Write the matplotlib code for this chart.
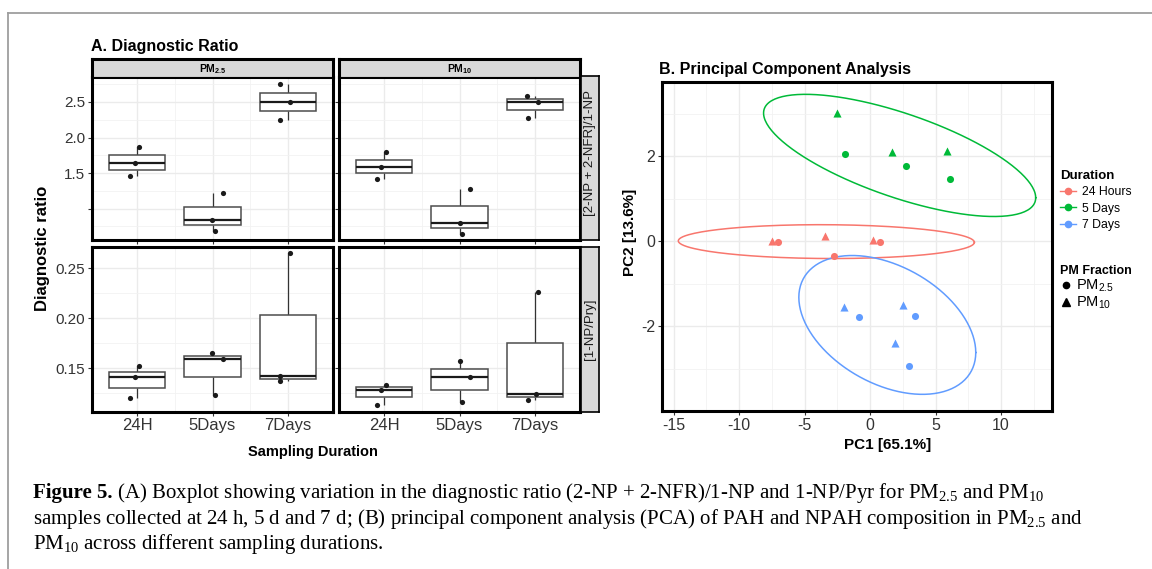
import numpy as np
import matplotlib
matplotlib.use("Agg")
import matplotlib.pyplot as plt
from matplotlib.lines import Line2D

plt.rcParams['font.family'] = ['Liberation Sans', 'DejaVu Sans']
plt.rcParams['mathtext.default'] = 'regular'
plt.rcParams['axes.unicode_minus'] = False

# ---- data: boxplots (3 replicates per duration) ----
durations = ["24H", "5Days", "7Days"]
fractions = ["PM$_{2.5}$", "PM$_{10}$"]
ratio_names = ["[2-NP + 2-NFR]/1-NP", "[1-NP/Pry]"]

nfr_pm25 = [[1.46, 1.64, 1.86], [0.69, 0.84, 1.22], [2.25, 2.50, 2.75]]
nfr_pm10 = [[1.41, 1.58, 1.80], [0.65, 0.80, 1.27], [2.27, 2.50, 2.59]]
pyr_pm25 = [[0.120, 0.141, 0.152], [0.123, 0.1595, 0.165], [0.137, 0.142, 0.265]]
pyr_pm10 = [[0.1135, 0.1284, 0.1335], [0.1156, 0.1406, 0.157], [0.1183, 0.1245, 0.226]]

# horizontal jitter of the points as seen in the figure
jit_nfr_pm25 = [[-0.09, -0.035, 0.03], [0.03, -0.01, 0.14], [-0.10, 0.035, -0.11]]
jit_nfr_pm10 = [[-0.10, -0.045, 0.03], [0.03, 0.0, 0.14], [-0.09, 0.04, -0.10]]
jit_pyr_pm25 = [[-0.09, -0.035, 0.03], [0.03, 0.14, -0.01], [-0.10, -0.11, 0.035]]
jit_pyr_pm10 = [[-0.10, -0.045, 0.03], [0.03, 0.14, 0.0], [-0.09, 0.02, 0.04]]

# ---- data: PCA scores ----
groups = ["24 Hours", "5 Days", "7 Days"]
pc1_24h = [-7.53, -7.04, -3.44, -2.73, 0.23, 0.77]
pc2_24h = [0.01, -0.02, 0.12, -0.35, 0.03, -0.03]
frac_24h = ["PM10", "PM2.5", "PM10", "PM2.5", "PM10", "PM2.5"]
pc1_5d = [-2.53, -1.91, 1.71, 2.73, 5.89, 6.10]
pc2_5d = [3.03, 2.06, 2.09, 1.78, 2.12, 1.46]
frac_5d = ["PM10", "PM2.5", "PM10", "PM2.5", "PM10", "PM2.5"]
pc1_7d = [-2.02, -0.82, 2.55, 3.44, 1.94, 2.98]
pc2_7d = [-1.55, -1.78, -1.51, -1.76, -2.39, -2.93]
frac_7d = ["PM10", "PM2.5", "PM10", "PM2.5", "PM10", "PM2.5"]

colors = ["#F8766D", "#00BA38", "#619CFF"]

W, H = 1152, 569
fig = plt.figure(figsize=(W / 100, H / 100), dpi=100)


def fbox(x0, y0, x1, y1):
    # pixel box (top-left origin) -> figure fraction rect
    return [x0 / W, (H - y1) / H, (x1 - x0) / W, (y1 - y0) / H]


def style_panel(ax):
    ax.set_facecolor("white")
    for s in ax.spines.values():
        s.set_linewidth(2.2)
        s.set_color("black")
    ax.grid(True, which="major", color="#EBEBEB", lw=1.0)
    ax.grid(True, which="minor", color="#F2F2F2", lw=0.6)
    ax.set_axisbelow(True)
    ax.tick_params(which="major", length=3, width=0.8, color="#333333",
                   labelsize=11, labelcolor="#333333", pad=2)
    ax.tick_params(which="minor", length=0)


def draw_box(ax, data, jit):
    for i, vals in enumerate(data):
        v = np.array(vals)
        q1, med, q3 = np.percentile(v, [25, 50, 75])
        lo, hi = v.min(), v.max()
        ax.vlines(i + 1, q3, hi, color="#333333", lw=0.9, zorder=2)
        ax.vlines(i + 1, lo, q1, color="#333333", lw=0.9, zorder=2)
        ax.add_patch(plt.Rectangle((i + 1 - 0.375, q1), 0.75, q3 - q1, facecolor="white",
                                   edgecolor="#4D4D4D", lw=1.1, zorder=3))
        ax.hlines(med, i + 1 - 0.375, i + 1 + 0.375, color="#1A1A1A", lw=1.6, zorder=4)
        ax.scatter(np.full(3, i + 1) + np.array(jit[i]), v, s=14, color="#1A1A1A",
                   zorder=5, linewidths=0)


panels = [
    (nfr_pm25, jit_nfr_pm25, 0, 0), (nfr_pm10, jit_nfr_pm10, 0, 1),
    (pyr_pm25, jit_pyr_pm25, 1, 0), (pyr_pm10, jit_pyr_pm10, 1, 1),
]
col_x = [(92, 333), (339, 580)]
row_y = [(77, 240), (247, 412)]

for data, jit, r, c in panels:
    x0, x1 = col_x[c]
    y0, y1 = row_y[r]
    ax = fig.add_axes(fbox(x0, y0, x1, y1))
    style_panel(ax)
    draw_box(ax, data, jit)
    ax.set_xlim(0.4, 3.6)
    ax.set_xticks([1, 2, 3])
    if r == 0:
        ax.set_ylim(0.56, 2.85)
        ax.set_yticks([1.0, 1.5, 2.0, 2.5])
        ax.set_yticklabels(["", "1.5", "2.0", "2.5"])
        ax.set_yticks([0.75, 1.25, 1.75, 2.25, 2.75], minor=True)
        ax.set_xticklabels([])
    else:
        ax.set_ylim(0.106, 0.271)
        ax.set_yticks([0.15, 0.20, 0.25])
        ax.set_yticklabels(["0.15", "0.20", "0.25"])
        ax.set_yticks([0.125, 0.175, 0.225], minor=True)
        ax.set_xticklabels(durations)
        ax.tick_params(axis="x", labelsize=12, pad=1.5)
    ax.set_xticks([1.5, 2.5], minor=True)
    if c == 1:
        ax.tick_params(axis="y", labelleft=False)
    # top strips
    if r == 0:
        sx = fig.add_axes(fbox(x0, 59, x1, 77))
        sx.set_facecolor("#D9D9D9")
        sx.set_xticks([]); sx.set_yticks([])
        for s in sx.spines.values():
            s.set_linewidth(2.2)
        sx.spines["bottom"].set_linewidth(0.8)
        sx.text(0.5, 0.45, fractions[c], transform=sx.transAxes, ha="center", va="center",
                fontsize=7.5, fontweight="bold")
    # right strips
    if c == 1:
        rx = fig.add_axes(fbox(581, y0 - 1 if r == 0 else y0, 599, y1))
        rx.set_facecolor("#D9D9D9")
        rx.set_xticks([]); rx.set_yticks([])
        for s in rx.spines.values():
            s.set_linewidth(1.2)
        rx.text(0.5, 0.53 if r == 0 else 0.5, ratio_names[r], transform=rx.transAxes,
                ha="center", va="center", rotation=90, fontsize=9.5, color="#1A1A1A")

fig.text(91 / W, 1 - 46 / H, "A. Diagnostic Ratio", fontsize=11.5, fontweight="bold",
         ha="left", va="center")
fig.text(42 / W, 1 - 248 / H, "Diagnostic ratio", fontsize=12, fontweight="bold",
         rotation=90, ha="center", va="center")
fig.text(313 / W, 1 - 452 / H, "Sampling Duration", fontsize=10.5, fontweight="bold",
         ha="center", va="center")


# ---- panel B: PCA ----
def cov_trob(xy, nu=5, maxit=25, tol=0.01):
    n, p = xy.shape
    wt = np.ones(n)
    loc = xy.mean(axis=0)
    w = np.sqrt(wt)
    X = xy - loc
    for _ in range(maxit):
        w0 = w
        X = xy - loc
        _, d, vt = np.linalg.svd(np.sqrt(w / w.sum())[:, None] * X, full_matrices=False)
        wX = X @ vt.T @ np.diag(1 / d)
        Q = (wX ** 2).sum(axis=1)
        w = (wt * (nu + p)) / (nu + Q)
        loc = (w[:, None] * xy).sum(axis=0) / w.sum()
        if np.all(np.abs(w - w0) < tol):
            break
    sx = np.sqrt(w)[:, None] * X
    return loc, sx.T @ sx / wt.sum()


def ellipse_path(x, y, level=0.95, seg=200):
    xy = np.column_stack([x, y])
    center, shape = cov_trob(xy)
    dfd = len(x) - 1
    fq = dfd / 2 * ((1 - level) ** (-2 / dfd) - 1)  # F(2, dfd) quantile
    radius = np.sqrt(2 * fq)
    ang = np.linspace(0, 2 * np.pi, seg + 1)
    circ = np.column_stack([np.cos(ang), np.sin(ang)])
    L = np.linalg.cholesky(shape)
    e = center + radius * circ @ L.T
    return e[:, 0], e[:, 1]


axb = fig.add_axes(fbox(662, 82, 1052, 411))
style_panel(axb)
pca = [(pc1_24h, pc2_24h, frac_24h), (pc1_5d, pc2_5d, frac_5d), (pc1_7d, pc2_7d, frac_7d)]
for (px, py, fr), col in zip(pca, colors):
    ex, ey = ellipse_path(px, py)
    axb.plot(ex, ey, color=col, lw=1.1, zorder=2)
    px, py, fr = np.array(px), np.array(py), np.array(fr)
    m25 = fr == "PM2.5"
    axb.scatter(px[m25], py[m25], marker="o", s=26, color=col, linewidths=0, zorder=3)
    axb.scatter(px[~m25], py[~m25], marker="^", s=34, color=col, linewidths=0, zorder=3)
axb.set_xlim(-15.9, 13.9)
axb.set_ylim(-4.0, 3.75)
axb.set_xticks([-15, -10, -5, 0, 5, 10])
axb.set_xticks([-12.5, -7.5, -2.5, 2.5, 7.5, 12.5], minor=True)
axb.set_yticks([-2, 0, 2])
axb.set_yticks([-3, -1, 1, 3], minor=True)
axb.tick_params(axis="both", labelsize=11.5, pad=2)
axb.set_xlabel("PC1 [65.1%]", fontsize=11, fontweight="bold")
axb.set_ylabel("PC2 [13.6%]", fontsize=11, fontweight="bold")
axb.xaxis.label.set_va("center")
axb.yaxis.label.set_va("center")
axb.xaxis.set_label_coords((888 - 662) / 390, (411 - 445) / 329)
axb.yaxis.set_label_coords((630 - 662) / 390, (411 - 232) / 329)
axb.set_title("B. Principal Component Analysis", fontsize=11.5, fontweight="bold",
              loc="left", x=-0.008, pad=6)

h1 = [Line2D([], [], color=c, marker="o", markersize=4.5, lw=1) for c in colors]
leg1 = fig.legend(h1, groups, loc="upper left", bbox_to_anchor=(1060 / W, 1 - 170 / H),
                  frameon=False, fontsize=8.8, title="Duration", handlelength=1.3,
                  handletextpad=0.5, labelspacing=0.35, borderaxespad=0, borderpad=0)
leg1.get_title().set_fontweight("bold")
leg1.get_title().set_fontsize(9.5)
leg1._legend_box.align = "left"
h2 = [Line2D([], [], color="black", marker="o", markersize=4.5, lw=0),
      Line2D([], [], color="black", marker="^", markersize=5.5, lw=0)]
leg2 = fig.legend(h2, fractions, loc="upper left", bbox_to_anchor=(1060 / W, 1 - 265 / H),
                  frameon=False, fontsize=10.5, title="PM Fraction", handlelength=0.8,
                  handletextpad=0.3, labelspacing=0.05, borderaxespad=0, borderpad=0)
leg2.get_title().set_fontweight("bold")
leg2.get_title().set_fontsize(9)
leg2._legend_box.align = "left"

# ---- page frame and caption ----
fig.add_artist(Line2D([8 / W, 1], [1 - 13 / H, 1 - 13 / H], color="#9E9E9E", lw=1.3))
fig.add_artist(Line2D([8 / W, 8 / W], [0, 1 - 13 / H], color="#9E9E9E", lw=1.3))

serif = ['Liberation Serif', 'DejaVu Serif']
cap_size = 15
renderer = fig.canvas.get_renderer()
lines = [
    ("Figure 5.", " (A) Boxplot showing variation in the diagnostic ratio (2-NP + 2-NFR)/1-NP "
                  "and 1-NP/Pyr for PM$_{2.5}$ and PM$_{10}$"),
    ("", "samples collected at 24 h, 5 d and 7 d; (B) principal component analysis (PCA) "
         "of PAH and NPAH composition in PM$_{2.5}$ and"),
    ("", "PM$_{10}$ across different sampling durations."),
]
ys = [498, 524, 549]
for (bold, rest), yy in zip(lines, ys):
    x = 33 / W
    if bold:
        t = fig.text(x, 1 - yy / H, bold, family=serif, fontsize=cap_size, fontweight="bold",
                     va="baseline")
        bb = t.get_window_extent(renderer)
        x = bb.x1 / W
    fig.text(x, 1 - yy / H, rest, family=serif, fontsize=cap_size, va="baseline")

fig.savefig("out.png", dpi=100)
